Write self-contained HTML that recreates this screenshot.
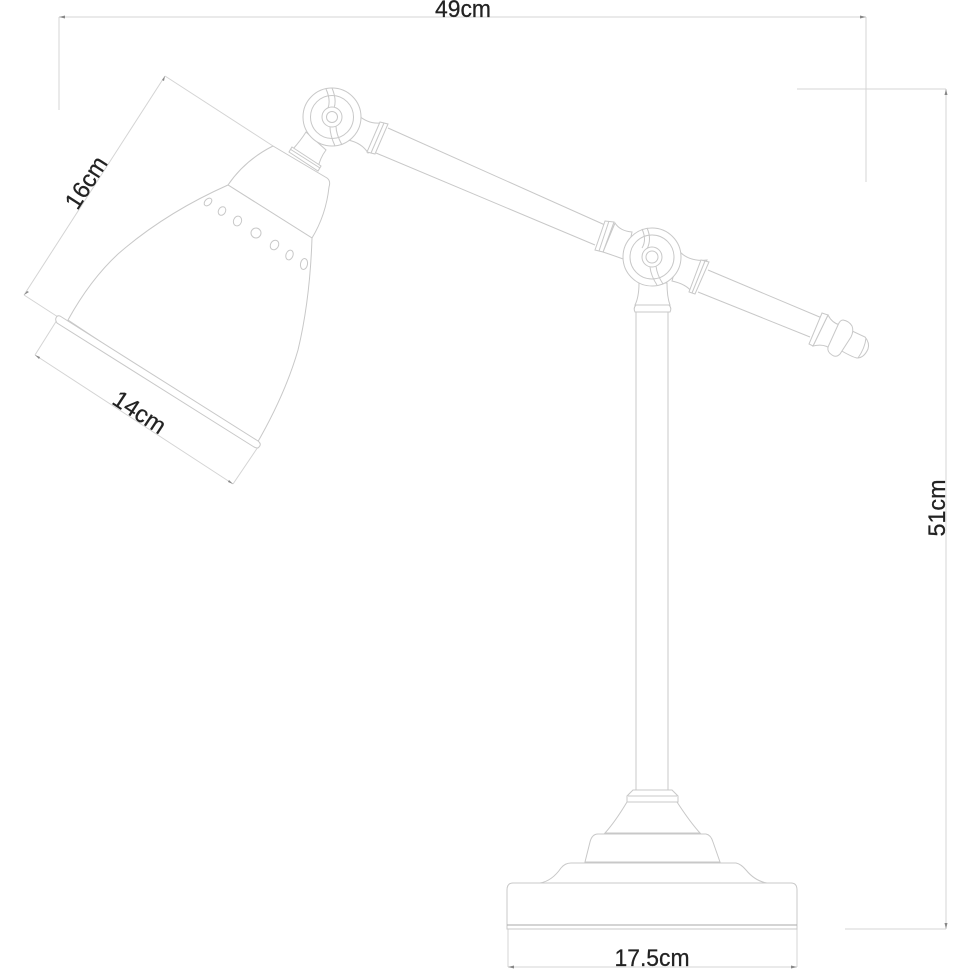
<!DOCTYPE html>
<html><head><meta charset="utf-8"><style>
html,body{margin:0;padding:0;background:#fff}
svg{display:block}
.l{fill:none;stroke:#c8c8c8;stroke-width:1}
.f{fill:#fff;stroke:#c8c8c8;stroke-width:1}
.d{fill:none;stroke:#d4d4d4;stroke-width:1}
text{font-family:"Liberation Sans",sans-serif;font-size:24px;fill:#222;stroke:#222;stroke-width:.25;text-anchor:middle}
.b{filter:blur(.35px)}
</style></head><body>
<svg width="970" height="970" viewBox="0 0 970 970" xmlns="http://www.w3.org/2000/svg">
<g class="b">
<!-- dimensions -->
<path class="d" d="M59 17H866M59 17V110M866 17V182M797 89H946M946 89V929M845 929H946M508 925V967M797 925V967M508 967H797"/>
<path class="d" d="M165 76L24 295M165 76L273 146M24 295L58 317M35 355L233 484M35 355L57 320M233 484L258 447"/>
<path d="M59 17l6-1.500v3zM866 17l-6-1.500v3zM946 89l-1.500 6h3zM946 929l-1.500-6h3zM508 967l6-1.500v3zM797 967l-6-1.500v3z" fill="#888"/>
<path d="M165 76l-3 4 2 1zM24 295l3-4 2 1zM35 355l5 2-1 2zM233 484l-5-2 1-2z" fill="#888"/>
<text x="463" y="17" textLength="56" lengthAdjust="spacingAndGlyphs">49cm</text>
<text x="652" y="966" textLength="75" lengthAdjust="spacingAndGlyphs">17.5cm</text>
<text transform="translate(945 508) rotate(-90)" textLength="57" lengthAdjust="spacingAndGlyphs">51cm</text>
<text transform="translate(93 187) rotate(-57.200)" textLength="57" lengthAdjust="spacingAndGlyphs">16cm</text>
<text transform="translate(135 419) rotate(33.300)" textLength="58" lengthAdjust="spacingAndGlyphs">14cm</text>

<!-- arm -->
<path class="l" d="M388 128L605 225M376 153L595 245M708 270L822 318M698 292L810 337"/>

<!-- joint 1 right collar -->
<path class="f" d="M358 115Q368 124 380 123L368 153Q362 143 348 140Z"/>
<path class="f" d="M380 122L388 124L375 154L367 152Z"/>
<path class="l" d="M384 123L371 153"/>

<!-- joint 2 collars -->
<path class="f" d="M615 223Q620 231 632 232L626 260Q615 256 603 252Z"/>
<path class="f" d="M605 221L614 222L603 252L595 250Z"/>
<path class="l" d="M609 221L599 251"/>
<path class="f" d="M680 252Q690 262 707 260L692 292Q686 284 672 281Z"/>
<path class="f" d="M701 260L709 262L695 294L689 292Z"/>
<path class="l" d="M705 261L692 293"/>

<!-- finial -->
<path class="f" d="M828 315Q832 323 840 325L832 350Q825 343 813 346Z"/>
<path class="f" d="M822 313L828 315L813 346L809 344Z"/>
<path class="f" d="M850 330L865 337Q870 343 868 349Q864 358 857 358Q852 357 840 350Z"/>
<path class="l" d="M866 338Q865 348 858 358"/>
<path class="f" d="M843 320Q849 321 852 326Q854 331 851 337L840 354Q836 358 832 355Q827 352 828 347L838 325Q840 320 843 320Z"/>

<!-- post -->
<path class="l" d="M636 312V790M668 312V790"/>
<path class="f" d="M639 283H667Q667 297 670 305H635Q639 297 639 283Z"/>
<path class="f" d="M636 305H669Q672 308 670 312H635Q633 308 636 305Z"/>

<!-- joint 1 neck -->
<path class="f" d="M306 132Q301 140 293 149L318 168Q320 158 326 150Z"/>

<!-- joint 1 -->
<circle class="f" cx="332" cy="117" r="29"/>
<circle class="l" cx="332" cy="117" r="21.500"/>
<path class="l" d="M326 89Q331 100 328 108M332 88Q337 100 334 108M330 127Q330 135 335 146M336 126Q336 134 342 145"/>
<circle class="f" cx="332" cy="117" r="10"/>
<circle class="l" cx="332" cy="117" r="5.500"/>

<!-- joint 2 -->
<circle class="f" cx="652" cy="257" r="29"/>
<circle class="l" cx="652" cy="257" r="22"/>
<path class="l" d="M647 228Q652 239 647 249M642 229Q647 240 642 248M650 267Q651 276 657 285M656 266Q657 275 663 284"/>
<circle class="f" cx="652" cy="257" r="10"/>
<circle class="l" cx="652" cy="257" r="6"/>

<!-- shade -->
<path class="f" d="M273 146L327 178Q331 181 329 187Q326 215 312 238L228 185Q245 160 273 146Z"/>
<path class="f" d="M228 185Q165 213 118 254Q90 280 68 320L256 445Q285 395 298 350Q310 300 312 238Z"/>
<path class="f" d="M60 316L258 441Q262 444 259 447Q258 449 254 447L57 323Q55 320 56 318Q57 315 60 316Z"/>
<path class="f" d="M292 147L321 166L318 171L289 152Z"/>
<path class="l" d="M290 149L320 168"/>
<g class="l">
<ellipse cx="208" cy="202" rx="4.500" ry="3" transform="rotate(-45 208 202)"/>
<ellipse cx="222" cy="211" rx="4.500" ry="3.500" transform="rotate(-60 222 211)"/>
<ellipse cx="237.500" cy="221" rx="5" ry="4" transform="rotate(-70 237.500 221)"/>
<circle cx="256" cy="233" r="5"/>
<ellipse cx="274.500" cy="245" rx="5" ry="4" transform="rotate(-60 274.500 245)"/>
<ellipse cx="289.500" cy="255" rx="5" ry="3.500" transform="rotate(-70 289.500 255)"/>
<ellipse cx="304" cy="264" rx="5.500" ry="3.500" transform="rotate(-80 304 264)"/>
</g>

<!-- base -->
<path class="f" d="M627 802Q615 822 605 833H700Q690 822 677 802Z"/>
<path class="f" d="M633 790H672L678 796V802H627V796Z"/>
<path class="l" d="M628 796H677"/>
<path class="f" d="M590 842Q592 834 598 834H706Q711 835 713 842L720 862H585Z"/>
<path class="f" d="M540 883Q552 881 561 868Q565 863 571 863H736Q741 864 746 870Q755 881 767 883Z"/>
<path class="f" d="M513 883H791Q797 883 797 890V929H507V890Q507 883 513 883Z"/>
<path d="M507 925H797" fill="none" stroke="#aaa"/>
</g>
</svg>
</body></html>
